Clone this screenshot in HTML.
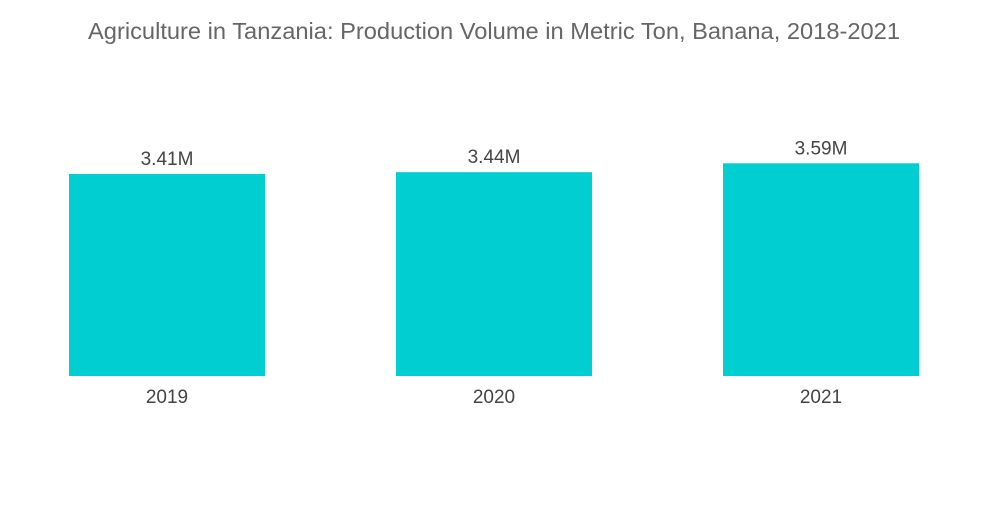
<!DOCTYPE html>
<html><head><meta charset="utf-8"><style>
body{margin:0;background:#fff;width:1000px;height:504px;overflow:hidden;font-family:"Liberation Sans",sans-serif}
</style></head><body>
<svg width="1000" height="504">
<text x="88" y="39" font-size="23" textLength="812" lengthAdjust="spacingAndGlyphs" fill="#666">Agriculture in Tanzania: Production Volume in Metric Ton, Banana, 2018-2021</text>
<g id="bars"></g>
</svg>
<script>
const categories=["2019","2020","2021"];
const values=[3.41,3.44,3.59];
const valueLabels=["3.41M","3.44M","3.59M"];
const baseY=376, pxPerUnit=59.25, barW=196, left0=69, step=327;
function y(v){return baseY-v*pxPerUnit;}
function x(i){return left0+i*step;}
const g=document.getElementById('bars');
const ns="http://www.w3.org/2000/svg";
categories.forEach((c,i)=>{
  const r=document.createElementNS(ns,'rect');
  r.setAttribute('x',x(i));r.setAttribute('y',y(values[i]));
  r.setAttribute('width',barW);r.setAttribute('height',baseY-y(values[i]));
  r.setAttribute('fill','#00ced1');
  
  
  g.appendChild(r);
  const t=document.createElementNS(ns,'text');
  t.setAttribute('x',x(i)+barW/2);t.setAttribute('y',y(values[i])-9);
  t.setAttribute('text-anchor','middle');t.setAttribute('font-size','19');t.setAttribute('fill','#444');
  t.textContent=valueLabels[i];
  
  
  g.appendChild(t);
  const l=document.createElementNS(ns,'text');
  l.setAttribute('x',x(i)+barW/2);l.setAttribute('y',403);
  l.setAttribute('text-anchor','middle');l.setAttribute('font-size','19');l.setAttribute('fill','#444');
  l.textContent=c;
  
  
  g.appendChild(l);
});
</script>
</body></html>
